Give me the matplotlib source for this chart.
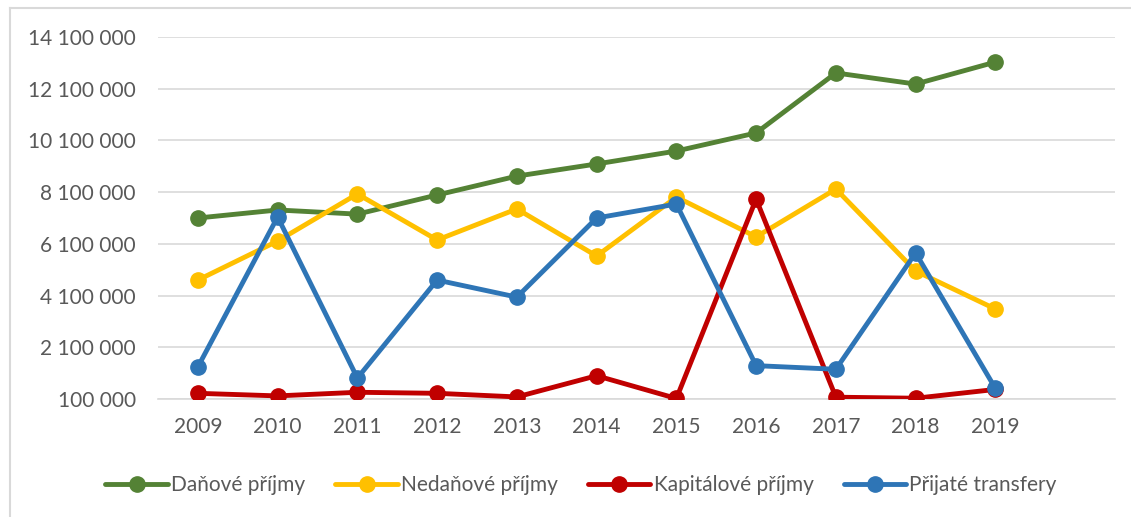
import matplotlib.pyplot as plt
from matplotlib.lines import Line2D
from matplotlib.ticker import FixedLocator

plt.rcParams['font.family'] = ['Lato', 'DejaVu Sans']

years = ['2009', '2010', '2011', '2012', '2013', '2014', '2015', '2016', '2017', '2018', '2019']
danove = [7100000, 7410000, 7250000, 7990000, 8720000, 9190000, 9690000, 10390000, 12710000, 12280000, 13130000]
nedanove = [4700000, 6210000, 8030000, 6250000, 7450000, 5630000, 7910000, 6370000, 8220000, 5050000, 3580000]
kapitalove = [320000, 220000, 360000, 320000, 180000, 1000000, 120000, 7830000, 170000, 130000, 470000]
transfery = [1340000, 7140000, 910000, 4700000, 4040000, 7100000, 7640000, 1390000, 1250000, 5750000, 510000]

series = [
    ('Daňové příjmy', danove, '#548235'),
    ('Nedaňové příjmy', nedanove, '#FFC000'),
    ('Kapitálové příjmy', kapitalove, '#C00000'),
    ('Přijaté transfery', transfery, '#2E75B6'),
]

fig = plt.figure(figsize=(11.31, 5.17), dpi=100)
ax = fig.add_axes([158 / 1131, 1 - 399 / 517, (1115 - 158) / 1131, (399 - 37) / 517])

x = list(range(len(years)))
for name, vals, col in series:
    ax.plot(x, vals, color=col, lw=3.5, marker='o', ms=11, label=name,
            solid_capstyle='round', zorder=3)

ticks = [100000 + 2000000 * i for i in range(8)]
ax.set_ylim(100000, 14100000)
ax.yaxis.set_major_locator(FixedLocator(ticks))
ax.set_yticklabels(['{:,}'.format(t).replace(',', ' ') for t in ticks])
ax.set_xlim(-0.5, len(years) + 0.5)
ax.set_xticks(x)
ax.set_xticklabels(years)
ax.grid(axis='y', color='#D9D9D9', lw=1.2, zorder=0)
for s in ['top', 'right', 'left']:
    ax.spines[s].set_visible(False)
ax.spines['bottom'].set_color('#D9D9D9')
ax.spines['bottom'].set_linewidth(1.2)
ax.tick_params(length=0, labelsize=15, colors='#595959')
ax.tick_params(axis='y', pad=16)
ax.tick_params(axis='x', pad=13)

ax.legend(loc='center', bbox_to_anchor=(581 / 1131, 1 - 485 / 517), bbox_transform=fig.transFigure,
          ncol=4, frameon=False, fontsize=15, labelcolor='#595959', handlelength=3.0,
          handletextpad=0.15, columnspacing=1.45)

# chart frame
fig.add_artist(Line2D([10 / 1131, 10 / 1131], [0, 1 - 8 / 517], color='#D9D9D9', lw=1.5))
fig.add_artist(Line2D([10 / 1131, 1], [1 - 8 / 517, 1 - 8 / 517], color='#D9D9D9', lw=1.5))

fig.savefig('out.png', dpi=100)
